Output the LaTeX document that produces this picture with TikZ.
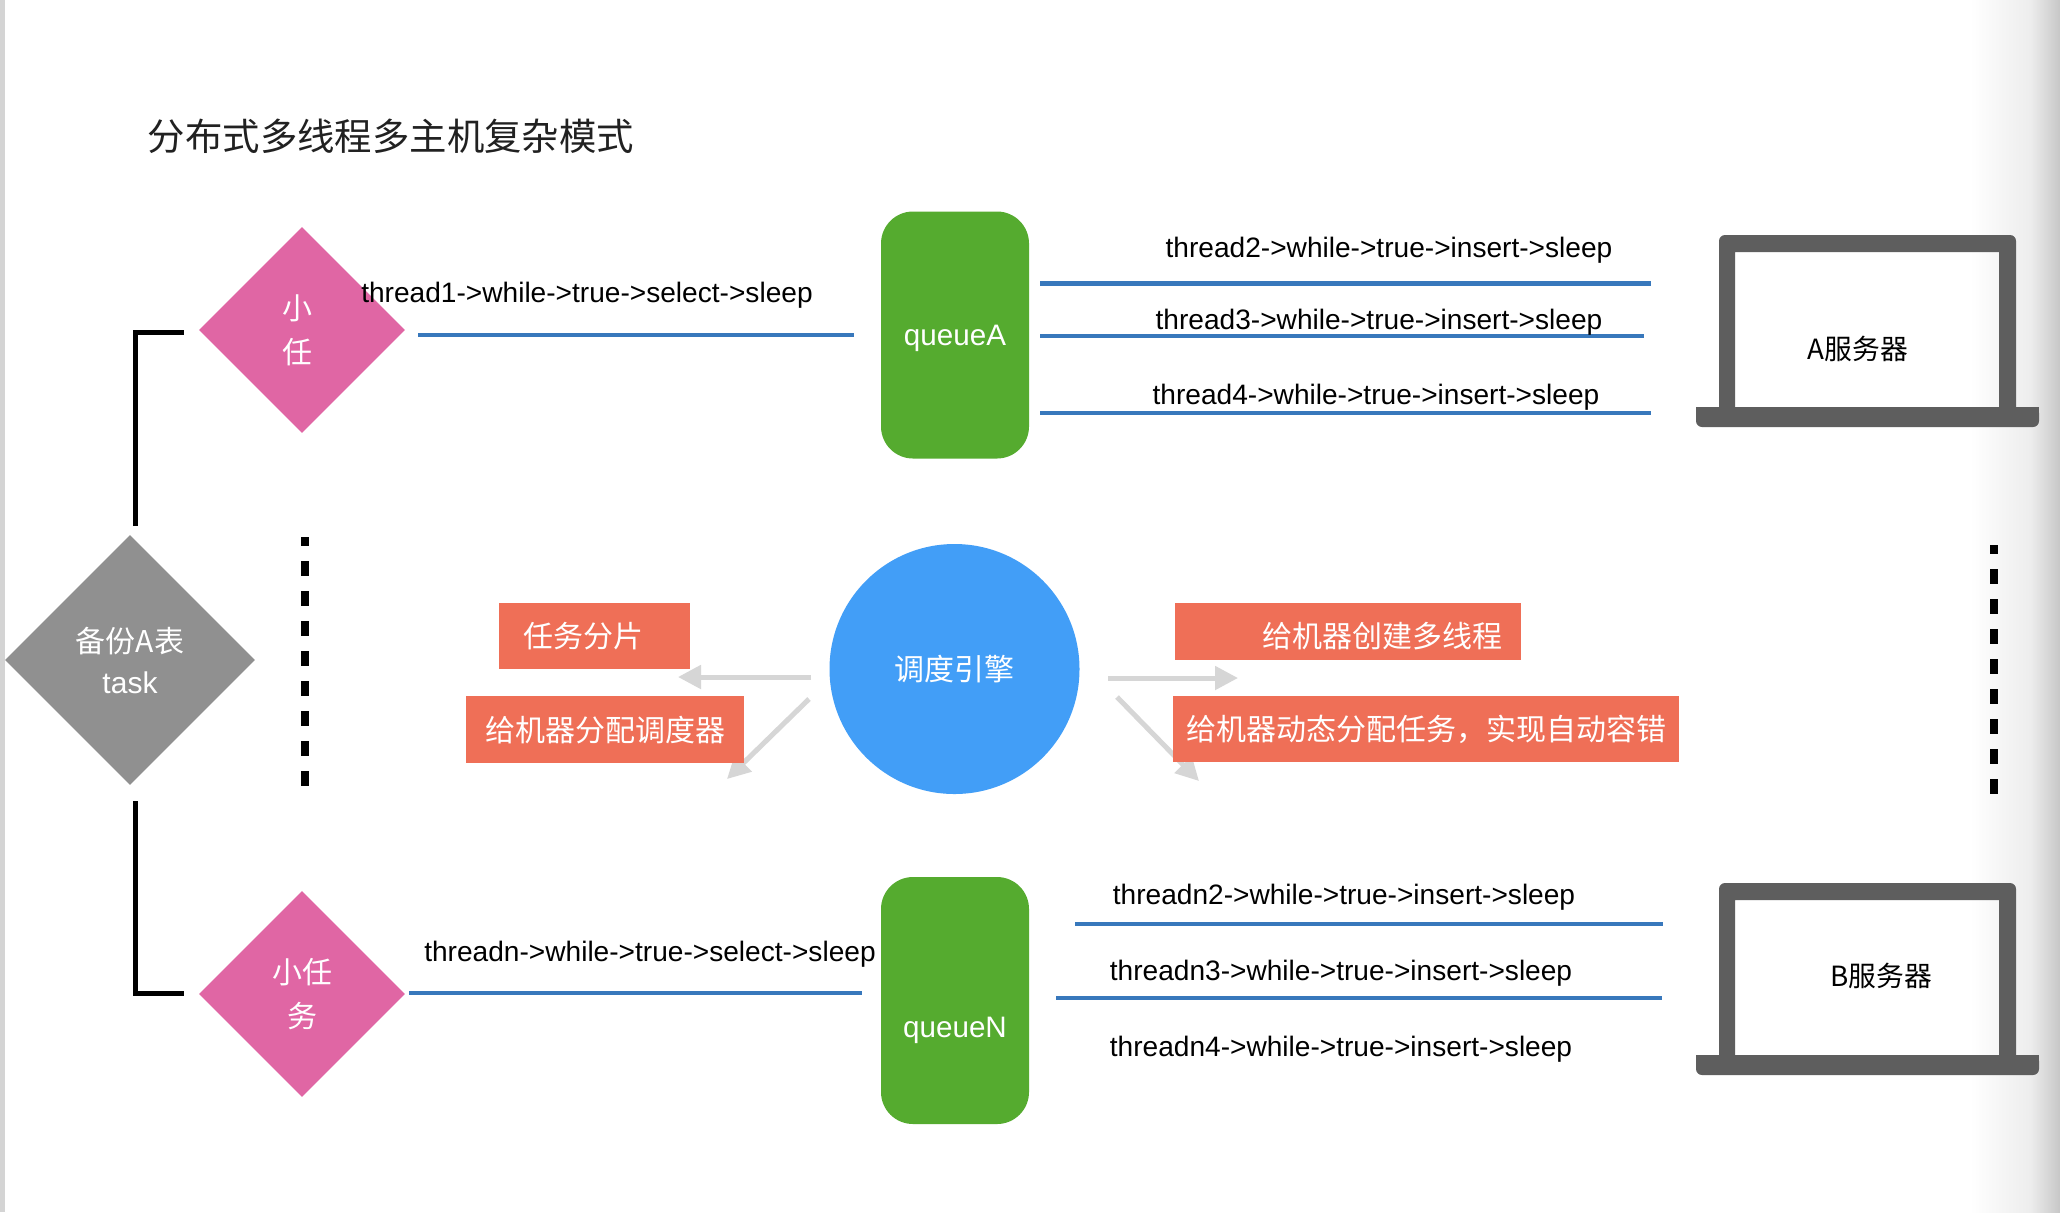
\documentclass[tikz,border=0pt]{standalone}
\usepackage{fontspec}
\setmainfont{Liberation Sans}
\newfontfamily\cjk{Noto Sans CJK SC}
\usepackage{xcolor}
\usetikzlibrary{arrows.meta,shapes.geometric}
\definecolor{wireblue}{HTML}{3878BC}
\definecolor{queuegreen}{HTML}{55AB2F}
\definecolor{taskpink}{HTML}{E066A4}
\definecolor{backupgray}{HTML}{909090}
\definecolor{enginesky}{HTML}{429EF7}
\definecolor{notered}{HTML}{EF6F57}
\definecolor{arrowgray}{HTML}{D6D6D6}
\definecolor{laptopgray}{HTML}{5E5E5E}
\tikzset{
  bluewire/.style={draw=wireblue,line width=2.4pt},
  blackwire/.style={draw=black,line width=2.5pt},
  dotwire/.style={draw=black,line width=3.6pt,dash pattern=on 7.5pt off 7.5pt,dash phase=3pt},
  grayarrow/.style={draw=arrowgray,line width=2.5pt,-{Triangle[length=11.5pt,width=11.5pt]}},
  threadlabel/.style={font=\fontsize{14.05}{17}\selectfont,inner sep=0pt},
  serverlabel/.style={font=\cjk\fontsize{13.9}{16}\selectfont,inner sep=0pt},
  taskdiamond/.style={shape=diamond,aspect=1,fill=taskpink,text=white,inner sep=0pt,minimum width=103pt,minimum height=103pt,align=center,font=\cjk\fontsize{15}{22}\selectfont},
  queuebox/.style={fill=queuegreen,text=white,rounded corners=16pt,minimum width=74pt,minimum height=123.5pt,inner sep=0pt,text depth=3pt,font=\fontsize{14.8}{18}\selectfont},
  notebox/.style={fill=notered,text=white,inner xsep=9.5pt,inner ysep=0pt,font=\cjk\fontsize{15}{18}\selectfont},
  laptop/.pic={
    \fill[laptopgray,even odd rule] [rounded corners=3pt] (0,0) rectangle (297,182) [sharp corners] (16,17) rectangle (280,172);
    \fill[laptopgray,rounded corners=3pt] (-23,172) rectangle (320,192);
    \fill[laptopgray] (-23,172) rectangle (320,182);
  }
}
\begin{document}
\begin{tikzpicture}[x=.5pt,y=-.5pt]
    \useasboundingbox (0,0) rectangle (2060,1212);
    \fill[white] (0,0) rectangle (2060,1212);
    \fill[left color=white,right color=white!93!black] (1970,0) rectangle (2030,1212);
    \fill[left color=white!93!black,right color=white!78!black] (2030,0) rectangle (2060,1212);
    \fill[white!83!black] (0,0) rectangle (5,1212);
    \node[font=\cjk\fontsize{18.7}{22}\selectfont,text=black!87,inner sep=0pt] (title) at (391,136) {分布式多线程多主机复杂模式};

    \node[shape=diamond,aspect=1,fill=backupgray,text=white,inner sep=0pt,minimum width=125pt,minimum height=125pt,align=center,font=\cjk\fontsize{15}{20.5}\selectfont] (backup) at (130,660) {备份A表\\[0pt]{\fontsize{15}{20.5}\selectfont\rmfamily task}};
    \node[taskdiamond] (taska) at (302,330) {小\hspace*{5pt}\\任\hspace*{5pt}};
    \node[taskdiamond] (taskn) at (302,994) {小任\\务};
    \node[queuebox,text height=13.7pt] (queuea) at (955,335) {queueA};
    \node[queuebox,text height=39.7pt] (queuen) at (955,1000.5) {queueN};
    \node[circle,fill=enginesky,text=white,minimum size=125pt,inner sep=0pt,font=\cjk\fontsize{15}{18}\selectfont] (engine) at (954.5,669) {调度引擎};

    \coordinate (elbowa) at (135,526);
    \coordinate (elbowaend) at (184,332);
    \coordinate (elbown) at (135,801);
    \coordinate (elbownend) at (184,993);
    \draw[blackwire] (elbowa) |- (elbowaend);
    \draw[blackwire] (elbown) |- (elbownend);
    \coordinate (dotsleft) at (305,537);
    \coordinate (dotsleftend) at (305,787);
    \coordinate (dotsright) at (1994,545);
    \coordinate (dotsrightend) at (1994,795);
    \draw[dotwire] (dotsleft) -- (dotsleftend);
    \draw[dotwire] (dotsright) -- (dotsrightend);

    \coordinate (arrowl) at (811,677);
    \coordinate (arrowlend) at (678,677);
    \coordinate (arrowd) at (809,699);
    \coordinate (arrowdend) at (727,779);
    \coordinate (arrowr) at (1108,678);
    \coordinate (arrowrend) at (1238,678);
    \coordinate (arrowe) at (1117,697);
    \coordinate (arroweend) at (1199,781);
    \draw[grayarrow] (arrowl) -- (arrowlend);
    \draw[grayarrow] (arrowd) -- (arrowdend);
    \draw[grayarrow] (arrowr) -- (arrowrend);
    \draw[grayarrow] (arrowe) -- (arroweend);

    \node[notebox,anchor=north west,minimum width=95.5pt,minimum height=33pt,text width=71.5pt,align=left,inner xsep=12pt,inner ysep=0pt] (slice) at (499,603) {任务分片};
    \node[notebox,anchor=north west,minimum width=139pt,minimum height=33.5pt] (assign) at (466,696) {给机器分配调度器};
    \node[notebox,anchor=north west,minimum height=28.5pt,text width=154pt,align=right,text height=18pt,text depth=2pt] (create) at (1175,603) {给机器创建多线程};
    \node[notebox,anchor=north west,minimum width=253pt,minimum height=33pt,inner xsep=6.5pt] (dynamic) at (1173,696) {给机器动态分配任务，实现自动容错};

    \coordinate (ta) at (418,335);
    \coordinate (taend) at (854,335);
    \draw[bluewire] (ta) -- (taend);
    \node[threadlabel] (labela) at (587,295) {thread1->while->true->select->sleep};
    \coordinate (tb) at (1040,283.5);
    \coordinate (tbend) at (1651,283.5);
    \draw[bluewire] (tb) -- (tbend);
    \node[threadlabel] (labelb) at (1389,250) {thread2->while->true->insert->sleep};
    \coordinate (tc) at (1040,336);
    \coordinate (tcend) at (1644,336);
    \draw[bluewire] (tc) -- (tcend);
    \node[threadlabel] (labelc) at (1379,322) {thread3->while->true->insert->sleep};
    \coordinate (td) at (1040,413);
    \coordinate (tdend) at (1651,413);
    \draw[bluewire] (td) -- (tdend);
    \node[threadlabel] (labeld) at (1376,397) {thread4->while->true->insert->sleep};

    \coordinate (tn) at (409,993);
    \coordinate (tnend) at (862,993);
    \draw[bluewire] (tn) -- (tnend);
    \node[threadlabel] (labeln) at (650,954) {threadn->while->true->select->sleep};
    \coordinate (tp) at (1075,924);
    \coordinate (tpend) at (1663,924);
    \draw[bluewire] (tp) -- (tpend);
    \node[threadlabel] (labelp) at (1344,897) {threadn2->while->true->insert->sleep};
    \coordinate (tq) at (1056,998);
    \coordinate (tqend) at (1662,998);
    \draw[bluewire] (tq) -- (tqend);
    \node[threadlabel] (labelq) at (1341,973) {threadn3->while->true->insert->sleep};
    \node[threadlabel] (labelr) at (1341,1049) {threadn4->while->true->insert->sleep};

    \pic at (1719,235) {laptop};
    \pic at (1719,883) {laptop};
    \node[serverlabel] (servera) at (1858,349) {A服务器};
    \node[serverlabel] (serverb) at (1881,976) {B服务器};
\end{tikzpicture}
\end{document}
